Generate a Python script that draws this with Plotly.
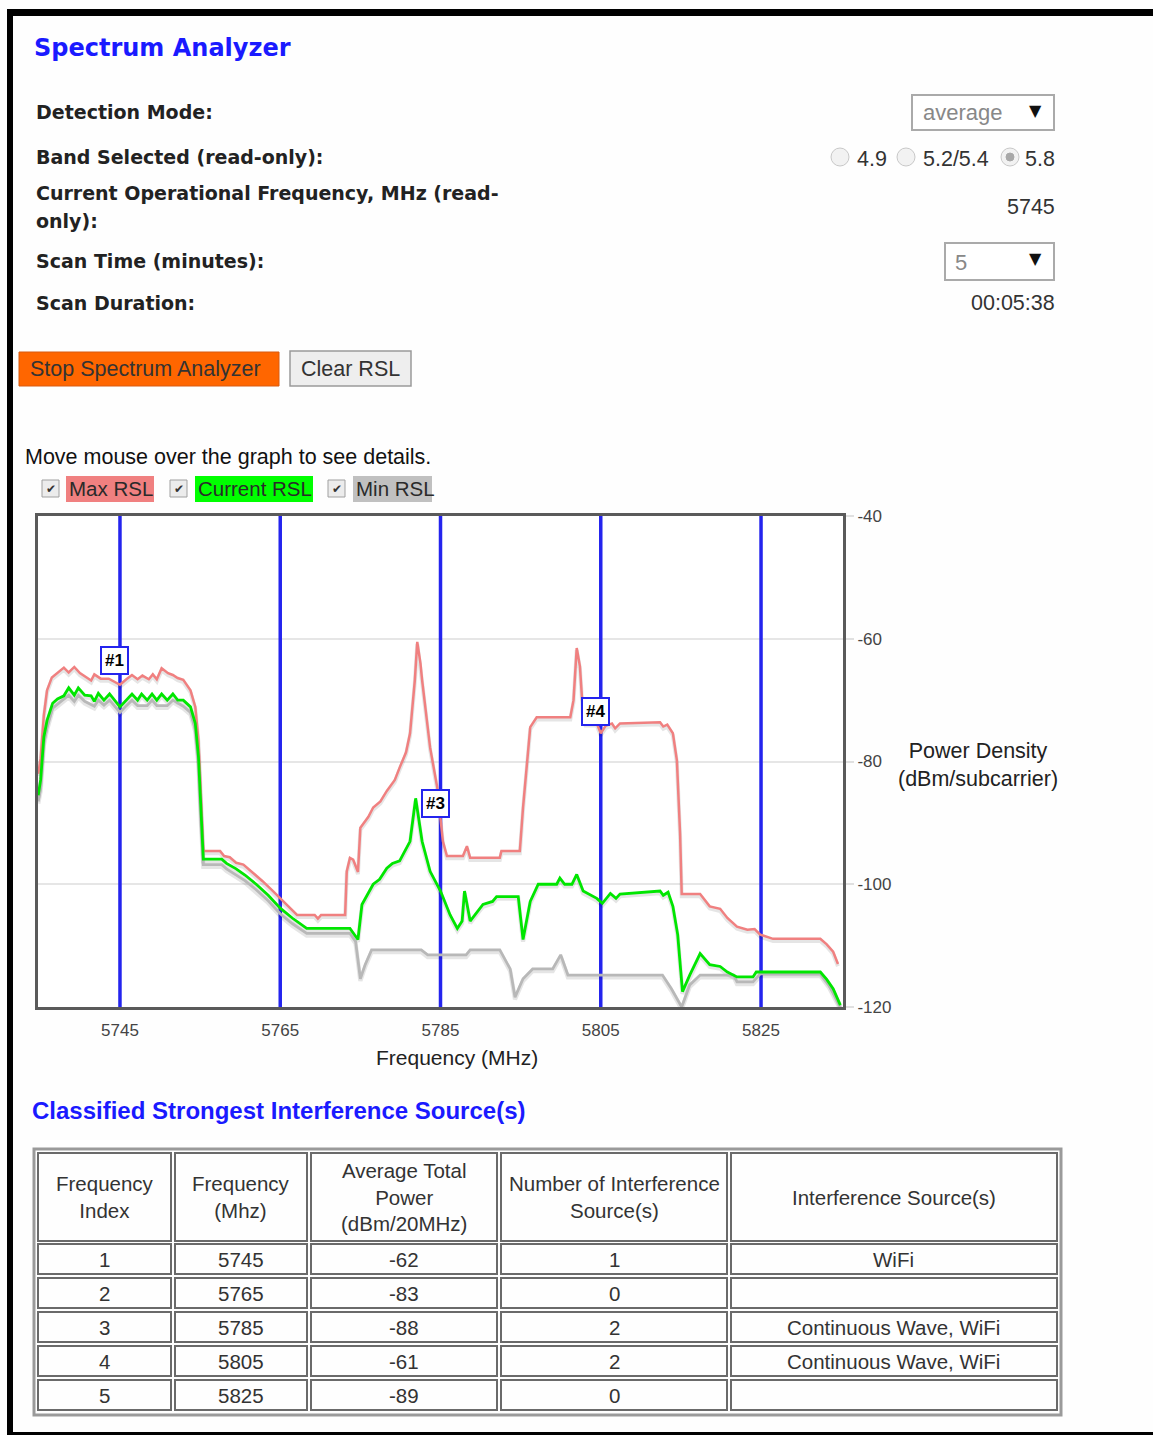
import plotly.graph_objects as go

W, H = 1153, 1435

# ---------------- data ----------------
channel_freqs = [5745, 5765, 5785, 5805, 5825]
y_ticks = [-40, -60, -80, -100, -120]

max_freq = [5734.8, 5735.1, 5735.5, 5735.9, 5736.5, 5737.2, 5738.0, 5738.6, 5739.3, 5740.0,
            5740.8, 5741.4, 5741.8, 5742.6, 5743.6, 5745.0, 5745.8, 5746.5, 5747.2, 5747.8,
            5748.6, 5749.1, 5749.6, 5750.2, 5751.0, 5751.6, 5752.2, 5752.9, 5753.8, 5754.4,
            5754.8, 5755.1, 5755.4, 5757.5, 5758.0, 5758.7, 5759.5, 5760.4, 5761.5, 5762.8,
            5764.0, 5765.0, 5766.0, 5767.1, 5769.3, 5769.7, 5770.1, 5773.1, 5773.3, 5773.7,
            5774.1, 5774.7, 5775.0, 5776.0, 5776.6, 5777.5, 5778.3, 5779.3, 5779.9, 5780.7,
            5781.2, 5781.8, 5782.1, 5782.5, 5782.7, 5783.7, 5784.6, 5785.3, 5785.8, 5787.8,
            5788.3, 5788.7, 5792.4, 5792.6, 5794.9, 5795.3, 5796.2, 5797.0, 5801.2, 5801.6,
            5802.0, 5802.4, 5802.8, 5803.1, 5804.5, 5805.0, 5805.6, 5806.4, 5806.8, 5807.4,
            5812.4, 5812.8, 5813.3, 5814.0, 5814.5, 5814.9, 5815.1, 5817.4, 5818.6, 5819.9,
            5820.8, 5822.0, 5823.3, 5824.2, 5824.9, 5826.5, 5832.4, 5833.2, 5834.0, 5834.6]
max_rsl = [-82.0, -79.5, -72.5, -68.4, -66.3, -65.5, -64.7, -65.5, -64.6, -65.6,
           -66.3, -66.8, -65.8, -66.5, -66.5, -67.5, -66.6, -65.9, -66.6, -66.0,
           -66.6, -65.8, -66.6, -64.8, -65.6, -65.9, -66.4, -66.7, -68.4, -71.1,
           -76.6, -85.9, -94.6, -94.6, -95.4, -95.6, -96.5, -96.8, -98.0, -99.5,
           -101.0, -102.3, -103.6, -105.0, -105.0, -105.6, -105.0, -105.0, -97.9, -95.7,
           -96.0, -98.0, -90.8, -89.0, -87.5, -86.5, -84.8, -83.0, -81.0, -78.5,
           -75.4, -66.7, -60.5, -64.0, -66.7, -77.7, -84.3, -93.0, -95.4, -95.4,
           -93.8, -95.7, -95.7, -94.6, -94.6, -87.5, -74.4, -72.8, -72.8, -70.0,
           -61.5, -64.5, -72.5, -73.8, -73.8, -75.4, -74.2, -73.8, -74.6, -73.8,
           -73.6, -74.3, -74.0, -75.4, -79.8, -91.8, -101.6, -101.6, -103.6, -104.0,
           -105.5, -106.9, -107.4, -107.3, -108.2, -108.9, -108.9, -109.8, -111.0, -113.0]

cur_freq = [5734.8, 5735.1, 5735.5, 5735.9, 5736.6, 5737.2, 5738.0, 5738.6, 5739.3, 5739.8,
            5740.6, 5741.4, 5741.8, 5742.3, 5743.0, 5743.7, 5745.0, 5745.8, 5746.5, 5747.2,
            5747.7, 5748.4, 5749.0, 5749.6, 5750.2, 5750.9, 5751.6, 5752.2, 5752.9, 5753.8,
            5754.4, 5754.8, 5755.1, 5755.4, 5757.7, 5758.3, 5759.5, 5760.6, 5762.0, 5763.5,
            5765.0, 5766.5, 5768.3, 5773.7, 5774.7, 5775.2, 5776.6, 5777.4, 5778.3, 5779.0,
            5779.9, 5781.2, 5781.9, 5782.7, 5783.7, 5785.0, 5786.2, 5787.1, 5787.7, 5788.0,
            5788.7, 5789.5, 5790.3, 5791.5, 5792.0, 5794.7, 5795.3, 5796.2, 5797.2, 5799.5,
            5799.9, 5800.5, 5801.4, 5802.0, 5802.8, 5804.5, 5805.2, 5806.2, 5806.9, 5807.4,
            5812.4, 5812.8, 5813.4, 5814.0, 5814.6, 5815.2, 5816.1, 5817.4, 5818.6, 5819.9,
            5820.8, 5822.0, 5824.0, 5824.4, 5832.4, 5833.2, 5834.0, 5834.9]
cur_rsl = [-85.5, -83.0, -76.0, -73.3, -70.5, -69.8, -69.3, -68.0, -69.2, -68.0,
           -69.2, -69.3, -70.2, -68.9, -70.0, -69.0, -71.1, -70.0, -69.0, -70.0,
           -69.0, -70.0, -69.0, -70.0, -69.0, -70.0, -69.0, -70.0, -70.0, -71.1,
           -73.8, -79.3, -88.5, -95.9, -95.9, -96.6, -97.5, -98.5, -100.0, -101.8,
           -103.9, -105.5, -107.2, -107.2, -109.0, -103.3, -100.0, -99.2, -97.4, -96.6,
           -96.2, -93.0, -86.0, -93.0, -97.9, -101.1, -105.0, -107.2, -106.0, -101.1,
           -106.0, -104.6, -103.3, -102.8, -102.0, -102.0, -109.0, -102.8, -100.0, -100.0,
           -99.0, -100.0, -100.0, -98.4, -101.1, -102.3, -103.1, -101.5, -102.3, -101.6,
           -101.1, -101.8, -101.3, -103.6, -108.2, -117.5, -114.8, -111.3, -113.1, -113.4,
           -114.3, -115.1, -115.1, -114.3, -114.3, -115.5, -117.0, -119.7]

min_freq = [5734.8, 5735.1, 5735.5, 5735.9, 5736.6, 5737.2, 5738.6, 5739.3, 5739.8, 5740.6,
            5741.8, 5742.3, 5743.0, 5743.7, 5745.0, 5745.8, 5746.5, 5747.2, 5748.4, 5749.0,
            5749.6, 5750.9, 5751.6, 5752.9, 5753.8, 5754.4, 5754.8, 5755.1, 5755.4, 5757.7,
            5758.3, 5760.6, 5762.0, 5763.5, 5765.0, 5766.5, 5768.3, 5773.7, 5774.4, 5775.0,
            5775.6, 5776.4, 5782.6, 5783.4, 5788.2, 5788.7, 5792.4, 5793.7, 5794.3, 5795.3,
            5796.5, 5799.0, 5800.0, 5800.9, 5812.7, 5813.8, 5815.1, 5816.1, 5817.4, 5821.6,
            5822.0, 5824.0, 5824.9, 5832.4, 5833.5, 5834.9]
min_rsl = [-86.5, -84.5, -77.0, -74.5, -71.3, -70.7, -69.2, -70.2, -69.2, -70.2,
           -71.0, -70.0, -70.8, -70.0, -72.0, -70.9, -70.0, -70.9, -70.9, -70.0,
           -70.9, -70.9, -70.0, -71.0, -72.0, -74.8, -80.3, -89.5, -96.8, -96.8,
           -97.5, -99.4, -100.9, -102.7, -104.8, -106.4, -108.0, -108.0, -109.3, -115.4,
           -113.1, -110.7, -110.7, -111.5, -111.5, -110.7, -110.7, -113.8, -118.4, -115.4,
           -113.8, -113.8, -111.5, -114.8, -114.8, -117.0, -120.0, -116.4, -114.8, -114.8,
           -115.9, -115.9, -114.6, -114.6, -116.5, -120.0]

marker_labels = ["#1", "#3", "#4"]
marker_freqs = [5745, 5785, 5805]
marker_levels = [-63.6, -86.9, -71.8]

table_header = ["Frequency<br>Index", "Frequency<br>(Mhz)", "Average Total<br>Power<br>(dBm/20MHz)",
                "Number of Interference<br>Source(s)", "Interference Source(s)"]
table_index = [1, 2, 3, 4, 5]
table_freq = [5745, 5765, 5785, 5805, 5825]
table_power = [-62, -83, -88, -61, -89]
table_count = [1, 0, 2, 2, 0]
table_sources = ["WiFi", "", "Continuous Wave, WiFi", "Continuous Wave, WiFi", ""]

# ---------------- helpers ----------------
def X(x):
    return x / W


def Y(y):
    return 1 - y / H


annotations = []
shapes = []
BOLD = "DejaVu Sans"
REG = "Liberation Sans, Arial, sans-serif"
BLUE = "#1a1aff"


def text(x, y, s, size, color="#222", family=REG, anchor="left", bold=False):
    if bold:
        s = "<b>" + s + "</b>"
    annotations.append(dict(x=X(x), y=Y(y), xref="paper", yref="paper", text=s,
                            showarrow=False, xanchor=anchor, yanchor="middle",
                            borderpad=0, font=dict(size=size, color=color, family=family)))


def rect(x0, y0, x1, y1, fill="rgba(0,0,0,0)", line="#888", lw=1, layer="above"):
    shapes.append(dict(type="rect", xref="paper", yref="paper", x0=X(x0), x1=X(x1),
                       y0=Y(y1), y1=Y(y0), fillcolor=fill,
                       line=dict(color=line, width=lw), layer=layer))


def circle(cx, cy, r, fill, line, lw=1):
    shapes.append(dict(type="circle", xref="paper", yref="paper", x0=X(cx - r), x1=X(cx + r),
                       y0=Y(cy + r), y1=Y(cy - r), fillcolor=fill,
                       line=dict(color=line, width=lw), layer="above"))


# ---------------- page frame ----------------
rect(7, 9, 1153, 16, fill="black", line="black", lw=0)
rect(7, 9, 13, 1435, fill="black", line="black", lw=0)
rect(7, 1432, 1153, 1435, fill="black", line="black", lw=0)

# ---------------- header / form ----------------
text(33, 48, "Spectrum Analyzer", 24, BLUE, BOLD, bold=True)
text(35, 112, "Detection Mode:", 19, "#222", BOLD, bold=True)
text(35, 157, "Band Selected (read-only):", 19, "#222", BOLD, bold=True)
text(35, 193, "Current Operational Frequency, MHz (read-", 19, "#222", BOLD, bold=True)
text(35, 221, "only):", 19, "#222", BOLD, bold=True)
text(35, 261, "Scan Time (minutes):", 19, "#222", BOLD, bold=True)
text(35, 303, "Scan Duration:", 19, "#222", BOLD, bold=True)

# detection mode dropdown
rect(912, 95, 1054, 130, fill="white", line="#aaa", lw=2)
text(922, 113, "average", 22, "#888")
text(1035, 111, "▼", 16, "#111", "DejaVu Sans", anchor="center")

# band radios
circle(840, 157, 9, "#f2f2f2", "#c8c8c8")
text(856, 159, "4.9", 21.5, "#333")
circle(906, 157, 9, "#f2f2f2", "#c8c8c8")
text(922, 159, "5.2/5.4", 21.5, "#333")
circle(1010, 157, 9, "#f2f2f2", "#c8c8c8")
circle(1010, 157, 4, "#a8a8a8", "#a8a8a8")
text(1024, 159, "5.8", 21.5, "#333")

text(1056, 207, "5745", 21.5, "#333", anchor="right")

rect(945, 243, 1054, 280, fill="white", line="#aaa", lw=2)
text(954, 262, "5", 22, "#888")
text(1035, 259, "▼", 16, "#111", "DejaVu Sans", anchor="center")

text(1056, 303, "00:05:38", 21.5, "#333", anchor="right")

# buttons
rect(19, 352, 279, 386, fill="#ff6600", line="#d85a10", lw=1)
text(29, 369, "Stop Spectrum Analyzer", 21.5, "#333")
rect(290, 351, 411, 386, fill="#eeeeee", line="#9a9a9a", lw=1.5)
text(300, 369, "Clear RSL", 21.5, "#333")

text(24, 457, "Move mouse over the graph to see details.", 21.5, "#111")

# legend replica
legend_items = [("Max RSL", "#f08080", 42, 66, 154), ("Current RSL", "#00ff00", 170, 195, 313),
                ("Min RSL", "#c0c0c0", 328, 353, 432)]
for name, col, cbx, lx0, lx1 in legend_items:
    rect(cbx, 480, cbx + 17, 497, fill="#ececec", line="#a0a0a0", lw=1)
    text(cbx + 8.5, 489, "✔", 12, "#333", "DejaVu Sans", anchor="center")
    rect(lx0, 476, lx1, 502, fill=col, line=col, lw=0)
    text(lx0 + 2, 489, name, 20.5, "#2a2a2a")

# ---------------- chart ----------------
fig = go.Figure()

vx, vy = [], []
for f in channel_freqs:
    vx += [f, f, None]
    vy += [min(y_ticks), max(y_ticks), None]
fig.add_trace(go.Scatter(x=vx, y=vy, mode="lines", line=dict(color="#2424ee", width=3.5),
                         hoverinfo="skip", showlegend=False))

series = [("Min RSL", min_freq, min_rsl, "#b8b8b8", 2.8),
          ("Max RSL", max_freq, max_rsl, "#f08080", 2.5),
          ("Current RSL", cur_freq, cur_rsl, "#00e600", 2.8)]
# soft drop shadow under each line (as the original flot chart draws)
for name, fx, fy, col, w in series:
    fig.add_trace(go.Scatter(x=fx, y=[v - 0.35 for v in fy], mode="lines",
                             line=dict(color="rgba(0,0,0,0.10)", width=w + 1.5),
                             hoverinfo="skip", showlegend=False))
for name, fx, fy, col, w in series:
    fig.add_trace(go.Scatter(x=fx, y=fy, mode="lines", name=name,
                             line=dict(color=col, width=w)))

for lab, f, v in zip(marker_labels, marker_freqs, marker_levels):
    annotations.append(dict(x=f, y=v, xref="x", yref="y", text="<b>" + lab + "</b>",
                            showarrow=False, xshift=-5, bgcolor="white", bordercolor="#2424ee",
                            borderwidth=2, borderpad=3,
                            font=dict(size=17, color="black", family=REG)))

text(457, 1057, "Frequency (MHz)", 21, "#222")
annotations[-1]["xanchor"] = "center"
text(978, 765, "Power Density<br>(dBm/subcarrier)", 21.5, "#222", anchor="center")

# ---------------- table section ----------------
text(31, 1110, "Classified Strongest Interference Source(s)", 24, BLUE,
     "Liberation Sans, Arial", bold=True)

col_edges = [(38, 171), (175, 307), (311, 497), (501, 727), (731, 1057)]
row_edges = [(1153, 1241), (1244, 1274), (1278, 1308), (1312, 1342), (1346, 1376), (1380, 1410)]

rect(34, 1149, 1061, 1415, line="#9a9a9a", lw=3)
for (r0, r1) in row_edges:
    for (c0, c1) in col_edges:
        rect(c0, r0, c1, r1, line="#6a6a6a", lw=2)

for (c0, c1), htxt in zip(col_edges, table_header):
    text((c0 + c1) / 2, (row_edges[0][0] + row_edges[0][1]) / 2, htxt, 20.5, "#333",
         anchor="center")

rows = list(zip(table_index, table_freq, table_power, table_count, table_sources))
for (r0, r1), row in zip(row_edges[1:], rows):
    for (c0, c1), val in zip(col_edges, row):
        if str(val):
            text((c0 + c1) / 2, (r0 + r1) / 2, str(val), 20.5, "#333", anchor="center")

# ---------------- layout ----------------
fig.update_layout(
    width=W, height=H,
    margin=dict(l=0, r=0, t=0, b=0, pad=0, autoexpand=False),
    paper_bgcolor="#fefefe", plot_bgcolor="white",
    showlegend=False,
    annotations=annotations, shapes=shapes,
    xaxis=dict(domain=[X(38), X(843)], range=[5734.77, 5835.23], showgrid=False,
               zeroline=False, showline=True, mirror=True, linecolor="#5a5a5a", linewidth=3,
               tickvals=channel_freqs, ticktext=[str(f) for f in channel_freqs], ticks="",
               tickfont=dict(size=17, color="#444", family=REG), ticklabelstandoff=6,
               automargin=False),
    yaxis=dict(domain=[Y(1007), Y(516)], range=[min(y_ticks), max(y_ticks)], side="right",
               showgrid=True, gridcolor="#e6e6e6", gridwidth=2, zeroline=False,
               showline=True, mirror=True, linecolor="#5a5a5a", linewidth=3,
               tickvals=y_ticks, ticktext=[str(v) for v in y_ticks], ticks="outside",
               ticklen=8, tickwidth=2, tickcolor="#e0e0e0",
               tickfont=dict(size=17, color="#444", family=REG), automargin=False),
)

fig.write_html("out.html", config={"displayModeBar": False},
               post_script="document.body.style.margin='0';document.body.style.overflow='hidden';")
